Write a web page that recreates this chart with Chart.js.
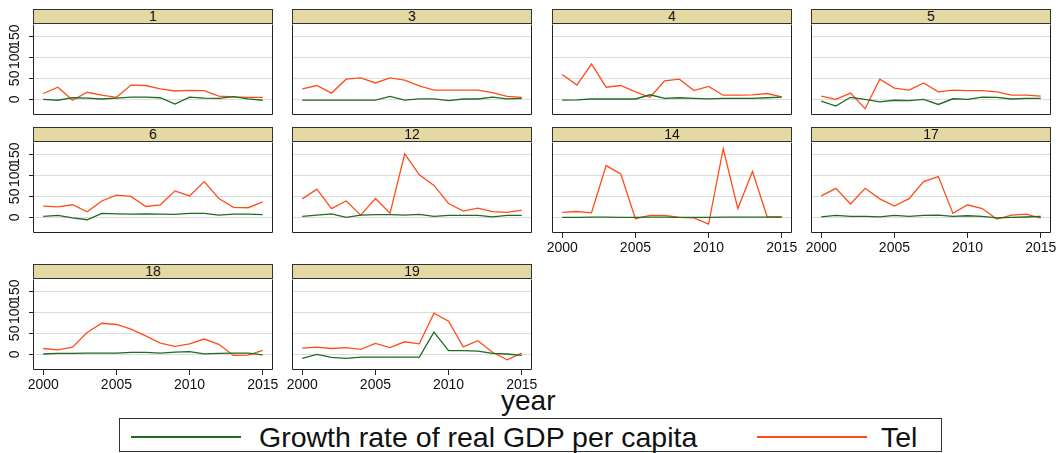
<!DOCTYPE html>
<html>
<head>
<meta charset="utf-8">
<script src="https://cdn.jsdelivr.net/npm/chart.js@4.4.1/dist/chart.umd.min.js"></script>
<style>
  body { margin: 0; background: #fff; }
  #wrap { position: relative; width: 1064px; height: 453px; overflow: hidden;
          font-family: "Liberation Sans", Arial, sans-serif; background: #fff; }
  .hdr { position: absolute; box-sizing: border-box; border: 1px solid #333;
         background: #e4d8a3; text-align: center; font-size: 14px; line-height: 13px; color: #111; }
  canvas.pn { position: absolute; }
  #xtitle { position: absolute; font-size: 28px; line-height: 28px; color: #111; }
  #legend { position: absolute; left: 119px; top: 418px; width: 823px; height: 34px;
            box-sizing: border-box; border: 1px solid #333; background: #fff; }
  #legend .key { position: absolute; height: 2px; }
  #legend .lab { position: absolute; font-size: 28.5px; line-height: 28px; color: #111; white-space: nowrap; }
</style>
</head>
<body>
<div id="wrap">
  <div id="xtitle">year</div>
  <div id="legend">
    <div class="key" id="k0" style="left:11px;top:17px;width:110px;"></div>
    <div class="lab" id="l0" style="left:139px;top:4px;"></div>
    <div class="key" id="k1" style="left:637px;top:17px;width:110px;"></div>
    <div class="lab" id="l1" style="left:761px;top:4px;"></div>
  </div>
</div>
<script>
// Years on the horizontal axis
const years = [2000, 2001, 2002, 2003, 2004, 2005, 2006, 2007, 2008, 2009, 2010, 2011, 2012, 2013, 2014, 2015];

// Panel identifiers, in drawing order
const panelIds = ['1', '3', '4', '5', '6', '12', '14', '17', '18', '19'];

// Growth rate of real GDP per capita, per panel
const gdp1  = [0, -2, 4, 3, 1, 3, 5.5, 5.5, 4, -11, 5.5, 3, 2.5, 6.5, 1.5, -2];
const gdp3  = [-1.5, -1.5, -1.5, -1.5, -1.5, -1.5, 7, -1.5, 1.5, 1.5, -3, 1, 1, 5.5, 1.5, 2.5];
const gdp4  = [-1.5, -1, 1, 1, 1, 1, 11, 2.5, 4, 2.5, 1.5, 2.5, 2.5, 2.5, 4, 5.5];
const gdp5  = [-4, -16, 5, 0, -6, -2, -3, 0, -12, 1.5, 0, 5.5, 5, 1, 2.5, 2.5];
const gdp6  = [2.5, 5, -1, -5.5, 9.5, 8.5, 8, 8.5, 8, 7, 9.5, 9.5, 5.5, 8, 8, 6.5];
const gdp12 = [2.5, 5.5, 8.5, 0, 5.5, 6.5, 6.5, 5.5, 7, 2.5, 5, 5, 5, 1.5, 5, 5];
const gdp14 = [0, 0, 0.5, 0.5, 0, 0, 0.5, 0.5, 0, 0, 0, 0.5, 0.5, 0.5, 0.5, 0.5];
const gdp17 = [1.5, 5, 2.5, 2.5, 1.5, 5, 2.5, 5, 5.5, 2.5, 4, 2.5, -1, 0, 1, 2.5];
const gdp18 = [1, 2.5, 2.5, 3, 3, 3, 5, 5, 3, 5.5, 6.5, 1.5, 2.5, 3, 3, -1];
const gdp19 = [-9.5, 0, -7, -9.5, -6.5, -6.5, -6.5, -6.5, -6.5, 53, 9, 9, 8, 2.5, 1, -2.5];

// Tel, per panel
const tel1  = [14, 29, -2, 17, 10, 5, 34, 33, 25, 20, 21.5, 21, 8, 6, 5, 5];
const tel3  = [25, 33, 15, 48, 51, 39, 51, 46, 32, 22, 22, 22, 22, 16, 7, 5];
const tel4  = [59, 34, 84, 29, 33, 18, 5, 44, 48, 21, 31, 10, 10, 11, 14, 6];
const tel5  = [8, 0, 15, -22, 48, 27, 22, 39, 18, 22, 21, 21, 18, 10, 10, 8];
const tel6  = [27, 25, 30, 13.5, 39, 53, 50, 26, 30, 63, 51, 85, 45, 24, 23, 37];
const tel12 = [44, 67, 21, 39, 5.5, 45, 10, 151, 101, 76, 33, 15, 22, 13.5, 12, 17.5];
const tel14 = [12, 14, 11, 123, 103, -3, 5, 5, 0, -1, -16, 163, 21, 109, 1.5, 1.5];
const tel17 = [51, 69, 32, 69, 44, 27, 44.5, 85, 97, 9.5, 30, 21, -4, 5.5, 8, -1.5];
const tel18 = [14, 11, 17, 52, 74, 71, 60, 44, 27, 19, 25, 36.5, 24, -2.5, -1.5, 9.5];
const tel19 = [15, 17.5, 14, 16, 12, 26, 16, 30, 25, 98, 79, 18, 32.5, 5, -13, 3];

const gdpSeries = [gdp1, gdp3, gdp4, gdp5, gdp6, gdp12, gdp14, gdp17, gdp18, gdp19];
const telSeries = [tel1, tel3, tel4, tel5, tel6, tel12, tel14, tel17, tel18, tel19];

// Axis ticks and text
const xTickValues = [2000, 2005, 2010, 2015];
const yTickValues = [0, 50, 100, 150];
const seriesNames = ['Growth rate of real GDP per capita', 'Tel'];
const xTitleText = 'year';

// Styling
const FONT = '"Liberation Sans", Arial, sans-serif';
const GREEN = '#1f6b1f';
const ORANGE = '#ff4d1a';
const GRID = '#dcdcdc';
const INK = '#222';

// Grid geometry of the small multiples
const colLefts = [33, 292, 552, 811];
const rowTops = [24, 142, 279];      // top of each row's plot area
const plotW = 240, plotH = 91, hdrH = 15;
const axisW = 33, padRight = 12;
const xLabelH = 24;

// Draws a box round the plot area of each panel
const framePlugin = {
  id: 'panelFrame',
  afterDraw(chart) {
    const { ctx, chartArea: a } = chart;
    ctx.save();
    ctx.strokeStyle = INK;
    ctx.lineWidth = 1;
    const l = Math.round(a.left) + 0.5, t = Math.round(a.top) + 0.5;
    const r = Math.round(a.right) - 0.5, b = Math.round(a.bottom) - 0.5;
    ctx.beginPath();
    ctx.moveTo(l, t); ctx.lineTo(l, b); ctx.lineTo(r, b); ctx.lineTo(r, t);
    ctx.stroke();
    ctx.restore();
  }
};

// Keeps each axis to a fixed size so every plot area lines up
function fixAxis(size) {
  return s => {
    if (s.isHorizontal()) { s.height = size; } else { s.width = size; }
    s.paddingTop = 0; s.paddingBottom = 0; s.paddingLeft = 0; s.paddingRight = 0;
  };
}

const wrap = document.getElementById('wrap');

panelIds.forEach((id, i) => {
  const row = Math.floor(i / 4), col = i % 4;
  const showY = col === 0;
  const showX = i + 4 >= panelIds.length;
  const left = colLefts[col], top = rowTops[row];

  const hdr = document.createElement('div');
  hdr.className = 'hdr';
  hdr.textContent = id;
  Object.assign(hdr.style, { left: left + 'px', top: (top - hdrH) + 'px', width: plotW + 'px', height: hdrH + 'px' });
  wrap.appendChild(hdr);

  const xh = showX ? xLabelH : 0;
  const cv = document.createElement('canvas');
  cv.className = 'pn';
  const cw = axisW + plotW + padRight, ch = plotH + xh;
  cv.width = cw; cv.height = ch;
  Object.assign(cv.style, { left: (left - axisW) + 'px', top: top + 'px', width: cw + 'px', height: ch + 'px' });
  wrap.appendChild(cv);

  new Chart(cv.getContext('2d'), {
    type: 'line',
    data: {
      datasets: [
        { label: seriesNames[0], data: years.map((y, k) => ({ x: y, y: gdpSeries[i][k] })),
          borderColor: GREEN, backgroundColor: GREEN },
        { label: seriesNames[1], data: years.map((y, k) => ({ x: y, y: telSeries[i][k] })),
          borderColor: ORANGE, backgroundColor: ORANGE }
      ]
    },
    options: {
      responsive: false,
      animation: false,
      devicePixelRatio: 1,
      layout: { padding: { left: 0, right: padRight, top: 0, bottom: 0 } },
      plugins: { legend: { display: false }, tooltip: { enabled: false } },
      elements: { point: { radius: 0 }, line: { tension: 0, borderWidth: 1.3 } },
      scales: {
        x: {
          type: 'linear', min: 1999.3, max: 2015.7,
          afterBuildTicks: s => { s.ticks = xTickValues.map(v => ({ value: v })); },
          afterFit: fixAxis(xh),
          border: { display: false },
          grid: { display: showX, drawOnChartArea: false, drawTicks: true, tickLength: 5, tickColor: INK },
          ticks: { display: showX, autoSkip: false, maxRotation: 0, padding: 2, color: '#111',
                   font: { family: FONT, size: 14 }, callback: v => String(v) }
        },
        y: {
          min: -37, max: 179,
          afterBuildTicks: s => { s.ticks = yTickValues.map(v => ({ value: v })); },
          afterFit: fixAxis(axisW),
          border: { display: false },
          grid: { color: GRID, lineWidth: 1, drawTicks: showY, tickLength: 4, tickColor: INK },
          ticks: { display: showY, autoSkip: false, minRotation: 90, maxRotation: 90, crossAlign: 'center',
                   padding: 2, color: '#111', font: { family: FONT, size: 14 }, callback: v => String(v) }
        }
      }
    },
    plugins: [framePlugin]
  });
});

// Axis title and legend text
const xt = document.getElementById('xtitle');
xt.textContent = xTitleText;
xt.style.left = '501px';
xt.style.top = '387px';
document.getElementById('k0').style.background = GREEN;
document.getElementById('k1').style.background = ORANGE;
document.getElementById('l0').textContent = seriesNames[0];
document.getElementById('l1').textContent = seriesNames[1];
</script>
</body>
</html>
